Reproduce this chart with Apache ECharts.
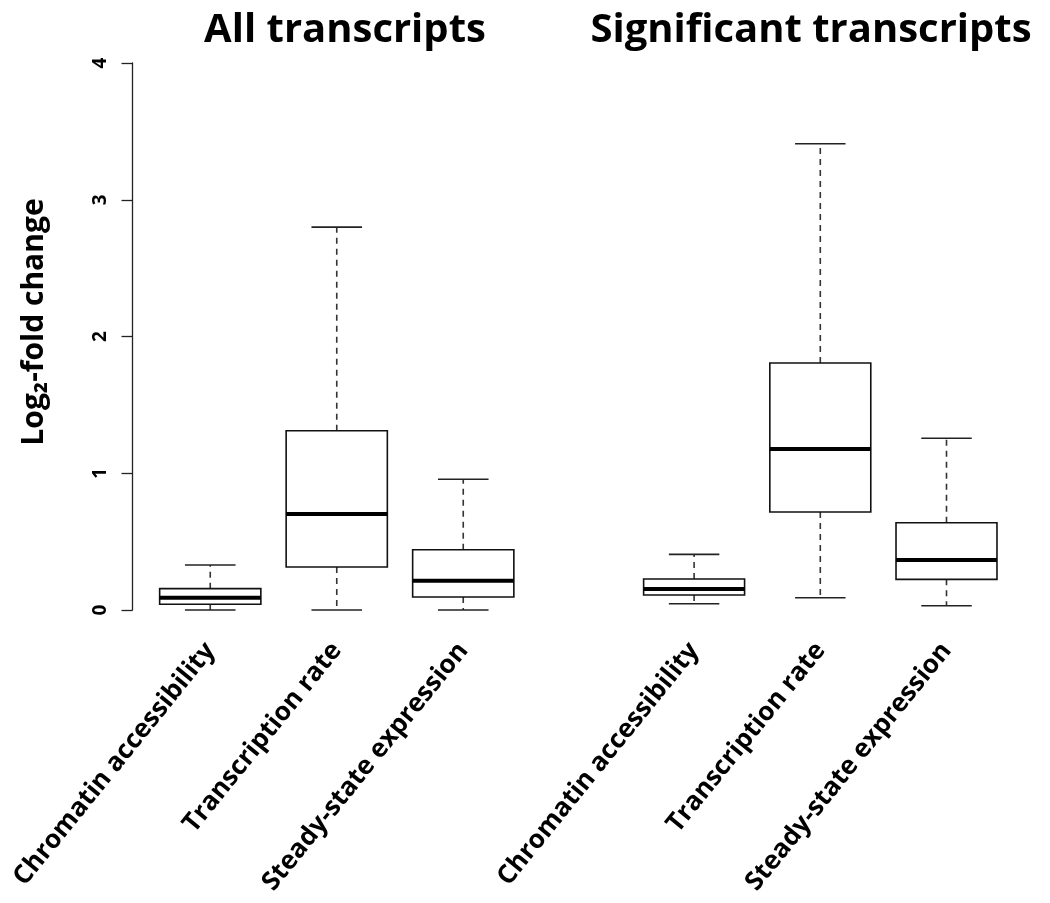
<!DOCTYPE html>
<html>
<head>
<meta charset="utf-8">
<script src="https://cdn.jsdelivr.net/npm/echarts@6/dist/echarts.min.js"></script>
<style>
  html, body { margin: 0; padding: 0; background: #fff; }
  #chart { width: 1050px; height: 903px; }
</style>
</head>
<body>
<div id="chart"></div>
<script>
// Box categories shared by both panels
const categories = ['Chromatin accessibility', 'Transcription rate', 'Steady-state expression'];

// Five-number summaries: [lower whisker, Q1, median, Q3, upper whisker]
const allTranscripts = [
  [0.000, 0.042, 0.090, 0.156, 0.329],
  [0.000, 0.314, 0.702, 1.311, 2.800],
  [0.000, 0.095, 0.214, 0.441, 0.956]
];
const significantTranscripts = [
  [0.046, 0.110, 0.154, 0.227, 0.407],
  [0.090, 0.717, 1.177, 1.806, 3.410],
  [0.031, 0.224, 0.366, 0.638, 1.256]
];

const panelTitles = ['All transcripts', 'Significant transcripts'];
const yTicks = [0, 1, 2, 3, 4];
const yAxisTitle = 'Log\u2082-fold change';

const FONT = '"Open Sans", "Noto Sans", sans-serif';

function toRows(stats) {
  return stats.map((s, i) => [i].concat(s));
}

// R-style box: rectangle, thick median, dashed whiskers with half-width caps
function renderBox(params, api) {
  const band = api.size([1, 0])[0];
  const half = band * 0.4;
  const capHalf = half / 2;
  const x = api.value(0);
  const pMin = api.coord([x, api.value(1)]);
  const pQ1 = api.coord([x, api.value(2)]);
  const pMed = api.coord([x, api.value(3)]);
  const pQ3 = api.coord([x, api.value(4)]);
  const pMax = api.coord([x, api.value(5)]);
  const cx = pMed[0];
  const solid = { stroke: '#222', lineWidth: 1.6, fill: null };
  const dashed = { stroke: '#333', lineWidth: 1.6, lineDash: [6, 5], fill: null };
  return {
    type: 'group',
    children: [
      { type: 'line', shape: { x1: cx, y1: pQ3[1], x2: cx, y2: pMax[1] }, style: dashed },
      { type: 'line', shape: { x1: cx, y1: pQ1[1], x2: cx, y2: pMin[1] }, style: dashed },
      { type: 'line', shape: { x1: cx - capHalf, y1: pMax[1], x2: cx + capHalf, y2: pMax[1] }, style: solid },
      { type: 'line', shape: { x1: cx - capHalf, y1: pMin[1], x2: cx + capHalf, y2: pMin[1] }, style: solid },
      { type: 'rect', shape: { x: cx - half, y: pQ3[1], width: half * 2, height: pQ1[1] - pQ3[1] },
        style: { stroke: '#111', lineWidth: 1.6, fill: '#fff' } },
      { type: 'line', shape: { x1: cx - half, y1: pMed[1], x2: cx + half, y2: pMed[1] },
        style: { stroke: '#000', lineWidth: 4 } }
    ]
  };
}

const chart = echarts.init(document.getElementById('chart'));

const xAxisCommon = {
  type: 'category',
  data: categories,
  axisLine: { show: false },
  axisTick: { show: false },
  axisLabel: {
    rotate: 51,
    margin: 36,
    interval: 0,
    color: '#000',
    fontFamily: FONT,
    fontWeight: 'bold',
    fontSize: 26
  }
};

chart.setOption({
  animation: false,
  backgroundColor: '#fff',
  grid: [
    { left: 147, width: 379.5, top: 63, bottom: 293, containLabel: false, outerBoundsMode: 'none' },
    { left: 631, width: 378.6, top: 63, bottom: 293, containLabel: false, outerBoundsMode: 'none' }
  ],
  xAxis: [
    Object.assign({ gridIndex: 0 }, xAxisCommon),
    Object.assign({ gridIndex: 1 }, xAxisCommon)
  ],
  yAxis: [
    {
      gridIndex: 0,
      type: 'value',
      min: yTicks[0],
      max: yTicks[yTicks.length - 1],
      interval: 1,
      offset: 14.5,
      axisLine: { show: true, lineStyle: { color: '#222', width: 1.3 } },
      axisTick: { show: true, length: 11, lineStyle: { color: '#222', width: 1.3 } },
      splitLine: { show: false },
      axisLabel: {
        rotate: 90,
        margin: 22,
        color: '#000',
        fontFamily: FONT,
        fontWeight: 'bold',
        fontSize: 19
      }
    },
    {
      gridIndex: 1,
      type: 'value',
      min: yTicks[0],
      max: yTicks[yTicks.length - 1],
      show: false
    }
  ],
  graphic: [
    { type: 'text', x: 345, y: 31, style: { text: panelTitles[0], font: 'bold 40px ' + FONT, fill: '#000', textAlign: 'center', textVerticalAlign: 'middle' } },
    { type: 'text', x: 811, y: 31, style: { text: panelTitles[1], font: 'bold 40px ' + FONT, fill: '#000', textAlign: 'center', textVerticalAlign: 'middle' } },
    { type: 'text', x: 34, y: 322, rotation: Math.PI / 2, style: { text: yAxisTitle, font: 'bold 30px ' + FONT, fill: '#000', textAlign: 'center', textVerticalAlign: 'middle' } }
  ],
  series: [
    {
      type: 'custom',
      xAxisIndex: 0,
      yAxisIndex: 0,
      renderItem: renderBox,
      encode: { x: 0, y: [1, 2, 3, 4, 5] },
      data: toRows(allTranscripts)
    },
    {
      type: 'custom',
      xAxisIndex: 1,
      yAxisIndex: 1,
      renderItem: renderBox,
      encode: { x: 0, y: [1, 2, 3, 4, 5] },
      data: toRows(significantTranscripts)
    }
  ]
});
</script>
</body>
</html>
